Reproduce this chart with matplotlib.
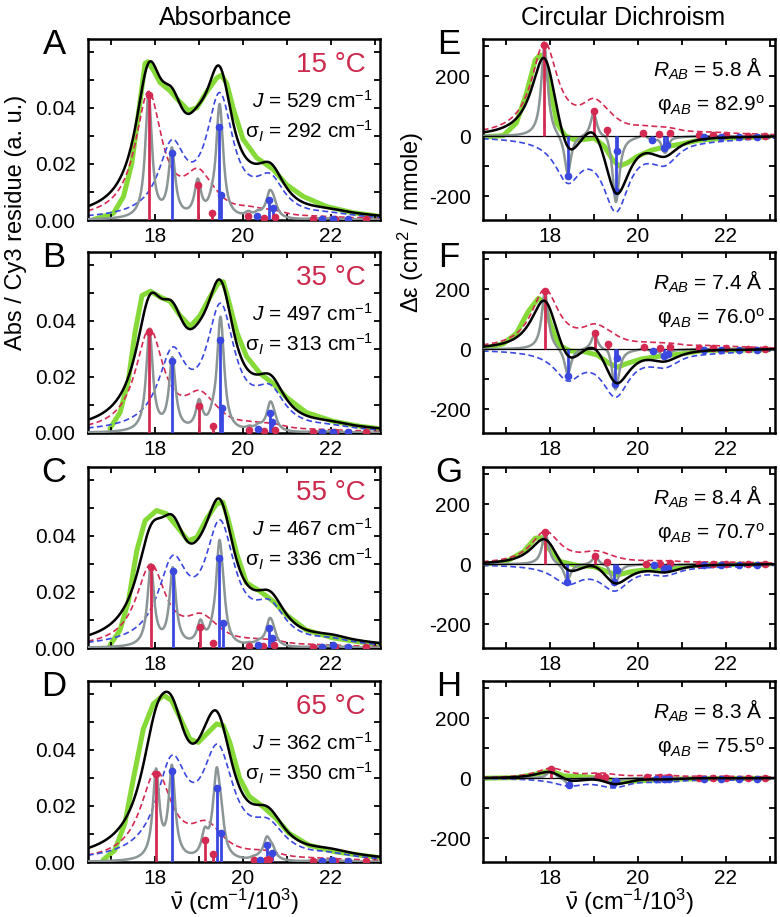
import numpy as np
import matplotlib.pyplot as plt

plt.rcParams['font.family'] = ['Liberation Sans', 'DejaVu Sans']
plt.rcParams['mathtext.fontset'] = 'custom'
plt.rcParams['mathtext.rm'] = 'Liberation Sans'
plt.rcParams['mathtext.it'] = 'Liberation Sans:italic'
plt.rcParams['mathtext.bf'] = 'Liberation Sans:bold'
plt.rcParams['axes.unicode_minus'] = False

# panel annotations
temps = ["15 °C", "35 °C", "55 °C", "65 °C"]
J_vals = [529, 497, 467, 362]
sigma_vals = [292, 313, 336, 350]
R_vals = [5.8, 7.4, 8.4, 8.3]
phi_vals = [82.9, 76.0, 70.7, 75.5]
abs_letters = ["A", "B", "C", "D"]
cd_letters = ["E", "F", "G", "H"]

# absorbance stick spectra (panels A-D)
abs_red_pos = [
    [17.85, 18.97, 19.30, 20.12, 20.47, 20.74, 21.6, 22.1, 22.8],
    [17.87, 19.00, 19.31, 20.14, 20.48, 20.73, 21.6, 22.1, 22.8],
    [17.90, 19.03, 19.32, 20.14, 20.46, 20.71, 21.6, 22.1, 22.8],
    [18.02, 19.13, 19.32, 20.24, 20.52, 20.60, 21.6, 22.1, 22.8],
]
abs_red_h = [
    [0.0444, 0.0124, 0.0026, 0.0016, 0.0006, 0.0012, 0.0003, 0.0003, 0.0002],
    [0.0360, 0.0097, 0.0024, 0.0010, 0.0006, 0.0012, 0.0003, 0.0003, 0.0002],
    [0.0288, 0.0076, 0.0019, 0.0006, 0.0006, 0.0010, 0.0003, 0.0003, 0.0002],
    [0.0312, 0.0080, 0.0030, 0.0006, 0.0006, 0.0012, 0.0003, 0.0003, 0.0002],
]
abs_blue_pos = [
    [18.38, 19.46, 19.51, 20.33, 20.60, 20.68, 21.8, 22.04, 22.4],
    [18.39, 19.48, 19.53, 20.35, 20.61, 20.67, 21.8, 22.04, 22.4],
    [18.40, 19.46, 19.54, 20.34, 20.60, 20.67, 21.8, 22.04, 22.4],
    [18.38, 19.40, 19.50, 20.38, 20.54, 20.67, 21.8, 22.02, 22.4],
]
abs_blue_h = [
    [0.0240, 0.0330, 0.0088, 0.0014, 0.0070, 0.0042, 0.0004, 0.0005, 0.0003],
    [0.0255, 0.0333, 0.0088, 0.0015, 0.0070, 0.0040, 0.0004, 0.0005, 0.0003],
    [0.0274, 0.0322, 0.0088, 0.0010, 0.0072, 0.0036, 0.0004, 0.0010, 0.0003],
    [0.0324, 0.0262, 0.0102, 0.0008, 0.0060, 0.0032, 0.0004, 0.0008, 0.0003],
]

# measured absorbance (green)
abs_exp_x = [
    [16.6, 17.05, 17.28, 17.47, 17.62, 17.77, 17.83, 17.96, 18.11, 18.34, 18.53, 18.76, 18.95,
     19.17, 19.4, 19.51, 19.63, 19.78, 20.0, 20.31, 20.69, 20.99, 21.37, 21.9, 22.5, 23.07],
    [16.97, 17.2, 17.39, 17.54, 17.7, 17.89, 18.11, 18.34, 18.57, 18.8, 19.02, 19.25, 19.43,
     19.55, 19.66, 19.86, 20.08, 20.39, 20.69, 20.99, 21.44, 22.05, 22.66, 23.07],
    [16.97, 17.2, 17.39, 17.58, 17.77, 18.03, 18.26, 18.48, 18.75, 18.95, 19.17, 19.4, 19.54,
     19.66, 19.86, 20.08, 20.39, 20.69, 20.99, 21.44, 22.05, 23.07],
    [16.82, 17.08, 17.31, 17.5, 17.73, 17.96, 18.19, 18.37, 18.56, 18.79, 18.98, 19.17, 19.4,
     19.55, 19.7, 19.92, 20.14, 20.45, 20.75, 21.05, 21.5, 22.11, 23.07],
]
abs_exp_y = [
    [0.0002, 0.0024, 0.0084, 0.0204, 0.038, 0.0558, 0.0564, 0.0534, 0.049, 0.046, 0.0426, 0.039,
     0.040, 0.0456, 0.0506, 0.0516, 0.0486, 0.0396, 0.0288, 0.0222, 0.018, 0.0126, 0.0084,
     0.0048, 0.0026, 0.0014],
    [0.0016, 0.0073, 0.0188, 0.0358, 0.049, 0.0505, 0.0485, 0.0469, 0.0418, 0.038, 0.0418,
     0.0485, 0.0533, 0.0539, 0.0479, 0.0358, 0.0273, 0.0212, 0.0176, 0.0127, 0.0073, 0.0042,
     0.0024, 0.0016],
    [0.001, 0.0064, 0.0166, 0.0346, 0.0454, 0.049, 0.0478, 0.0436, 0.0382, 0.0394, 0.046,
     0.0514, 0.052, 0.046, 0.0334, 0.0232, 0.0202, 0.0166, 0.0118, 0.0064, 0.0036, 0.0012],
    [0.0008, 0.0042, 0.0138, 0.0294, 0.0474, 0.0564, 0.0594, 0.0576, 0.0516, 0.0438, 0.0426,
     0.0456, 0.0492, 0.0486, 0.0426, 0.030, 0.0234, 0.0198, 0.0156, 0.0102, 0.006, 0.0036,
     0.0016],
]

# CD stick spectra (panels E-H)
cd_pos_pos = [
    [17.87, 18.99, 19.29, 20.12, 20.48, 20.72, 21.4, 21.7, 22.0, 22.5, 22.9],
    [17.88, 19.01, 19.32, 20.14, 20.49, 20.72, 21.4, 21.7, 22.0, 22.5, 22.9],
    [17.89, 19.03, 19.30, 20.18, 20.49, 20.72, 21.4, 21.7, 22.0, 22.5, 22.9],
    [18.02, 19.10, 19.25, 20.20, 20.50, 20.70, 21.4, 21.7, 22.0, 22.5, 22.9],
]
cd_pos_h = [
    [305, 83, 22, 11, 6, 11, 3, 3, 3, 2, 2],
    [194, 53, 18, 6, 3, 8, 3, 3, 3, 2, 2],
    [107, 28, 7, 2, 2, 4, 2, 2, 2, 2, 2],
    [32, 8, 5, 3, 3, 3, 2, 2, 2, 2, 2],
]
cd_neg_pos = [
    [18.40, 19.49, 19.53, 20.33, 20.60, 20.66, 21.5, 21.9, 22.3, 22.7],
    [18.40, 19.48, 19.53, 20.34, 20.60, 20.68, 21.5, 21.9, 22.3, 22.7],
    [18.39, 19.45, 19.53, 20.36, 20.60, 20.68, 21.5, 21.9, 22.3, 22.7],
    [18.42, 19.42, 19.50, 20.40, 20.60, 20.70, 21.5, 21.9, 22.3, 22.7],
]
cd_neg_h = [
    [-133, -183, -50, -11, -39, -28, -3, -3, -2, -2],
    [-89, -116, -30, -6, -24, -17, -3, -3, -2, -2],
    [-58, -61, -19, -2, -16, -11, -2, -2, -2, -2],
    [-22, -20, -8, -3, -4, -3, -2, -2, -2, -2],
]

# measured CD (green)
cd_exp_x = [
    [16.51, 16.93, 17.23, 17.46, 17.66, 17.77, 17.885, 18.0, 18.15, 18.34, 18.54, 18.77, 19.0,
     19.23, 19.42, 19.57, 19.76, 19.99, 20.3, 20.6, 20.91, 21.37, 21.98, 22.98],
    [16.51, 16.93, 17.23, 17.5, 17.73, 17.85, 18.0, 18.19, 18.46, 18.77, 19.07, 19.34, 19.53,
     19.76, 20.07, 20.45, 20.91, 21.52, 22.98],
    [16.51, 17.0, 17.39, 17.66, 17.81, 17.96, 18.23, 18.61, 19.0, 19.3, 19.53, 19.84, 20.3,
     20.76, 21.37, 22.98],
    [16.51, 17.23, 17.69, 18.0, 18.31, 18.77, 19.3, 19.61, 19.99, 20.68, 21.83, 22.98],
]
cd_exp_y = [
    [-2, 2, 44, 144, 255, 272, 244, 167, 44, 2, -11, -11, -6, -33, -78, -100, -89, -67, -47,
     -36, -28, -14, -6, -2],
    [3, 18, 53, 126, 170, 159, 87, 14, -6, -8, -19, -47, -60, -47, -33, -24, -17, -4, -2],
    [0, 9, 42, 87, 89, 54, 9, -4, -8, -25, -36, -25, -16, -11, -2, 0],
    [0, 2, 14, 25, 8, 5, -3, -12, -9, -3, -1, 0],
]

# line-shape half widths (10^3 cm-1)
narrow_w = 0.09
abs_wide_w = [0.37, 0.39, 0.41, 0.43]
cd_wide_w = [0.36, 0.38, 0.40, 0.42]

RED = '#d42a52'
BLUE = '#3a48e0'
GRAY = '#8b9595'
GREEN = '#86da38'
TXT_RED = '#cc2a4d'

x = np.linspace(16.3, 23.3, 1400)


def band(pos, h, w):
    out = np.zeros_like(x)
    for p, hh in zip(pos, h):
        out += hh / (1 + ((x - p) / w) ** 2)
    return out


fig = plt.figure(figsize=(7.8, 9.17), dpi=100)

W = 292 / 780
H = 181 / 917
lefts = [88 / 780, 483 / 780]
bottoms = [1 - 220 / 917, 1 - 433 / 917, 1 - 648 / 917, 1 - 862 / 917]


def style(ax):
    ax.set_xlim(16.47, 23.12)
    ax.set_xticks([18, 20, 22])
    ax.set_xticks([17, 19, 21, 23], minor=True)
    ax.tick_params(which='both', direction='in', top=True, right=True,
                   length=4, width=1.3, labelsize=15)
    ax.tick_params(axis='y', which='both', pad=9)
    ax.tick_params(axis='x', which='both', pad=5)
    for s in ax.spines.values():
        s.set_linewidth(1.8)


def draw(ax, rp, rh, bp, bh, ex, ey, ww):
    red_d = band(rp, rh, ww)
    blue_d = band(bp, bh, ww)
    gray = band(rp + bp, rh + bh, narrow_w)
    ax.plot(ex, ey, color=GREEN, lw=3.6, zorder=1, solid_capstyle='round',
            solid_joinstyle='round')
    ax.plot(x, red_d, color=RED, lw=1.2, ls=(0, (3.5, 2)), zorder=2)
    ax.plot(x, blue_d, color=BLUE, lw=1.2, ls=(0, (3.5, 2)), zorder=2)
    ax.plot(x, gray, color=GRAY, lw=1.8, zorder=3)
    ax.vlines(rp, 0, rh, color=RED, lw=2.0, zorder=4)
    ax.vlines(bp, 0, bh, color=BLUE, lw=2.0, zorder=4)
    ax.plot(rp, rh, 'o', color=RED, ms=4.5, zorder=5)
    ax.plot(bp, bh, 'o', color=BLUE, ms=4.5, zorder=5)
    ax.plot(x, red_d + blue_d, color='black', lw=1.8, zorder=6)


for i in range(4):
    # absorbance
    ax = fig.add_axes([lefts[0], bottoms[i], W, H])
    draw(ax, abs_red_pos[i], abs_red_h[i], abs_blue_pos[i], abs_blue_h[i],
         abs_exp_x[i], abs_exp_y[i], abs_wide_w[i])
    style(ax)
    ax.set_ylim(0, 0.0645)
    ax.set_yticks([0, 0.02, 0.04])
    ax.set_yticks([0.01, 0.03, 0.05, 0.06], minor=True)
    ax.set_yticklabels(["0.00", "0.02", "0.04"])
    ax.text(0.95, 0.856, temps[i], color=TXT_RED, fontsize=20, ha='right', va='center',
            transform=ax.transAxes)
    ax.text(0.976, 0.657, rf"$J$ = {J_vals[i]} cm$^{{-1}}$", fontsize=15, ha='right',
            va='center', transform=ax.transAxes)
    ax.text(0.976, 0.49, rf"σ$_I$ = {sigma_vals[i]} cm$^{{-1}}$", fontsize=15,
            ha='right', va='center', transform=ax.transAxes)
    ax.text(-0.116, 0.967, abs_letters[i], fontsize=25, ha='center', va='center',
            transform=ax.transAxes)

    # circular dichroism
    ax = fig.add_axes([lefts[1], bottoms[i], W, H])
    ax.axhline(0, color='black', lw=0.9, zorder=3.5)
    draw(ax, cd_pos_pos[i], cd_pos_h[i], cd_neg_pos[i], cd_neg_h[i],
         cd_exp_x[i], cd_exp_y[i], cd_wide_w[i])
    style(ax)
    ax.set_ylim(-280, 325)
    ax.set_yticks([-200, 0, 200])
    ax.set_yticks([-100, 100, 300], minor=True)
    ax.text(0.959, 0.834, rf"$R_{{AB}}$ = {R_vals[i]:.1f} Å", fontsize=15, ha='right',
            va='center', transform=ax.transAxes)
    ax.text(0.965, 0.635, rf"φ$_{{AB}}$ = {phi_vals[i]:.1f}$^{{\mathrm{{o}}}}$", fontsize=15,
            ha='right', va='center', transform=ax.transAxes)
    ax.text(-0.116, 0.967, cd_letters[i], fontsize=25, ha='center', va='center',
            transform=ax.transAxes)

fig.text(226 / 780, 1 - 18 / 917, "Absorbance", fontsize=18, ha='center', va='center')
fig.text(623 / 780, 1 - 18 / 917, "Circular Dichroism", fontsize=18, ha='center', va='center')
fig.text(16 / 780, 1 - 222 / 917, "Abs / Cy3 residue (a. u.)", fontsize=17, rotation=90,
         ha='center', va='center')
fig.text(411 / 780, 1 - 222 / 917, r"Δε (cm$^2$ / mmole)", fontsize=17, rotation=90,
         ha='center', va='center')
for cx in [234 / 780, 629 / 780]:
    fig.text(cx, 1 - 902 / 917, r"$\bar{\mathrm{\nu}}$ (cm$^{-1}$/10$^3$)", fontsize=17,
             ha='center', va='center')

fig.savefig("out.png", dpi=100)
